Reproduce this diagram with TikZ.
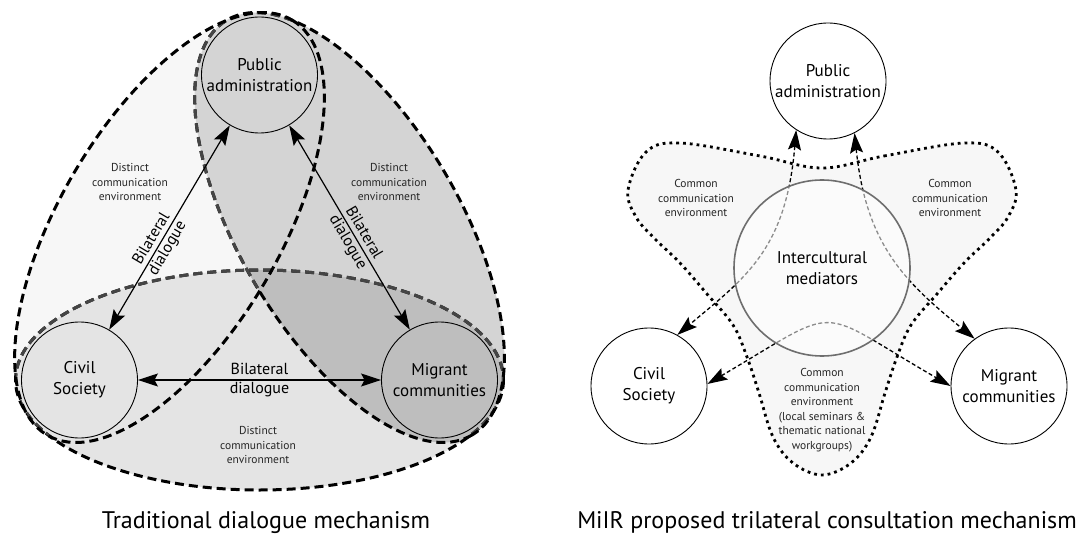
\documentclass[tikz,border=0pt]{standalone}
\usepackage{fontspec}
\setmainfont{PT Sans}
\usetikzlibrary{arrows.meta}
\definecolor{fillL}{HTML}{F7F7F7}
\definecolor{fillR}{HTML}{D4D4D4}
\definecolor{fillB}{HTML}{E4E4E4}
\definecolor{fillRB}{HTML}{BEBEBE}
\definecolor{covgray}{HTML}{454545}
\definecolor{fillC}{HTML}{F7F7F7}
\definecolor{medgray}{HTML}{6E6E6E}
\begin{document}
\begin{tikzpicture}[x=1pt,y=-1pt,
  envline/.style={line width=3pt, dash pattern=on 9pt off 5pt},
  actor/.style={circle, draw, line width=0.9pt, minimum size=116pt, inner sep=0pt, align=center, font=\fontsize{17}{21}\selectfont},
  smalltxt/.style={align=center, font=\fontsize{11.5}{14.5}\selectfont, text=black!85},
  bil/.style={align=center, font=\fontsize{16}{18.5}\selectfont},
  bigtip/.style={{Stealth[length=20pt,width=13pt,inset=3.5pt]}-{Stealth[length=20pt,width=13pt,inset=3.5pt]}},
  solidarrow/.style={bigtip, line width=1.2pt},
  dasharrow/.style={bigtip, line width=1.3pt, dash pattern=on 4pt off 2.5pt},
  dotline/.style={line width=2.8pt, dash pattern=on 2.8pt off 4pt},
  titletxt/.style={font=\fontsize{24}{28}\selectfont, anchor=base},
  ellL/.style={rotate around={59.45:(169.5,227.5)}},
  ellR/.style={rotate around={-59.45:(349.5,227.5)}}
]
\useasboundingbox (0,0) rectangle (1083,534);
\fill[white] (0,0) rectangle (1083,534);

% ---------- left diagram: fills ----------
\fill[fillL, ellL] (169.5,227.5) ellipse [x radius=241, y radius=110];
\fill[fillR, ellR] (349.5,227.5) ellipse [x radius=241, y radius=110];
\fill[fillB] (259.5,380) ellipse [x radius=244, y radius=110];
\begin{scope}
  \clip[ellR] (349.5,227.5) ellipse [x radius=241, y radius=110];
  \fill[fillRB] (259.5,380) ellipse [x radius=244, y radius=110];
\end{scope}

% ---------- left diagram: borders ----------
\draw[envline] (259.5,380) ellipse [x radius=244, y radius=110];
\begin{scope}
  \clip[ellL] (169.5,227.5) ellipse [x radius=241, y radius=110];
  \draw[envline, covgray] (259.5,380) ellipse [x radius=244, y radius=110];
\end{scope}
\begin{scope}
  \clip[ellR] (349.5,227.5) ellipse [x radius=241, y radius=110];
  \draw[envline, covgray] (259.5,380) ellipse [x radius=244, y radius=110];
\end{scope}
\draw[envline, ellR] (349.5,227.5) ellipse [x radius=241, y radius=110];
\begin{scope}
  \clip[ellL] (169.5,227.5) ellipse [x radius=241, y radius=110];
  \draw[envline, covgray, ellR] (349.5,227.5) ellipse [x radius=241, y radius=110];
\end{scope}
\draw[envline, ellL] (169.5,227.5) ellipse [x radius=241, y radius=110];

% ---------- left diagram: actors ----------
\node[actor] (pa) at (259.5,75) {Public\\administration};
\node[actor] (cs) at (79.5,380) {Civil\\Society};
\node[actor] (mc) at (439.5,380) {Migrant\\communities};

\draw[solidarrow] (pa) -- node[pos=0.58, sloped, bil] {Bilateral\\dialogue} (cs);
\draw[solidarrow] (pa) -- node[pos=0.55, sloped, bil] {Bilateral\\dialogue} (mc);
\draw[solidarrow] (cs) -- node[bil] {Bilateral\\dialogue} (mc);

\node[smalltxt] (envl) at (130,182) {Distinct\\communication\\environment};
\node[smalltxt] (envr) at (389,182) {Distinct\\communication\\environment};
\node[smalltxt] (envb) at (258,445) {Distinct\\communication\\environment};

\node[titletxt] (t1) at (266,528) {Traditional dialogue mechanism};

% ---------- right diagram ----------
\draw[dotline, fill=fillC] plot[smooth cycle, tension=0.6] coordinates {
 (822,168) (884,156) (964,143) (998,152) (1016,190) (1008,217) (990,238)
 (964,263) (937,294) (911,325) (897,357) (885,393) (871,437) (851,463)
 (822,475) (793,463) (773,437) (759,393) (747,357) (733,325) (707,294)
 (680,263) (654,238) (636,217) (628,190) (646,152) (680,143) (760,156)};

\node[smalltxt] (c1) at (696,198) {Common\\communication\\environment};
\node[smalltxt] (c2) at (950,198) {Common\\communication\\environment};
\node[smalltxt] (c3) at (822,410) {Common\\communication\\environment\\(local seminars \&\\thematic national\\workgroups)};

\node[actor, fill=white] (pa2) at (828,81) {Public\\administration};
\node[actor, fill=white] (cs2) at (649,386) {Civil\\Society};
\node[actor, fill=white] (mc2) at (1009,386) {Migrant\\communities};

\draw[dasharrow] (pa2.237) .. controls (786,250) and (745,278) .. (cs2.61);
\draw[dasharrow] (pa2.297) .. controls (866,245) and (905,282) .. (mc2.126);
\draw[dasharrow] (cs2.2) .. controls (845,303) and (812,306) .. (mc2.180);

\node[circle, draw=medgray, line width=1.6pt, fill=white, fill opacity=0.55, text opacity=1,
      minimum size=176pt, inner sep=0pt, align=center, font=\fontsize{17}{21}\selectfont]
      (im) at (822,268) {Intercultural\\mediators};

\node[titletxt] (t2) at (827,528) {MiIR proposed trilateral consultation mechanism};
\end{tikzpicture}
\end{document}
